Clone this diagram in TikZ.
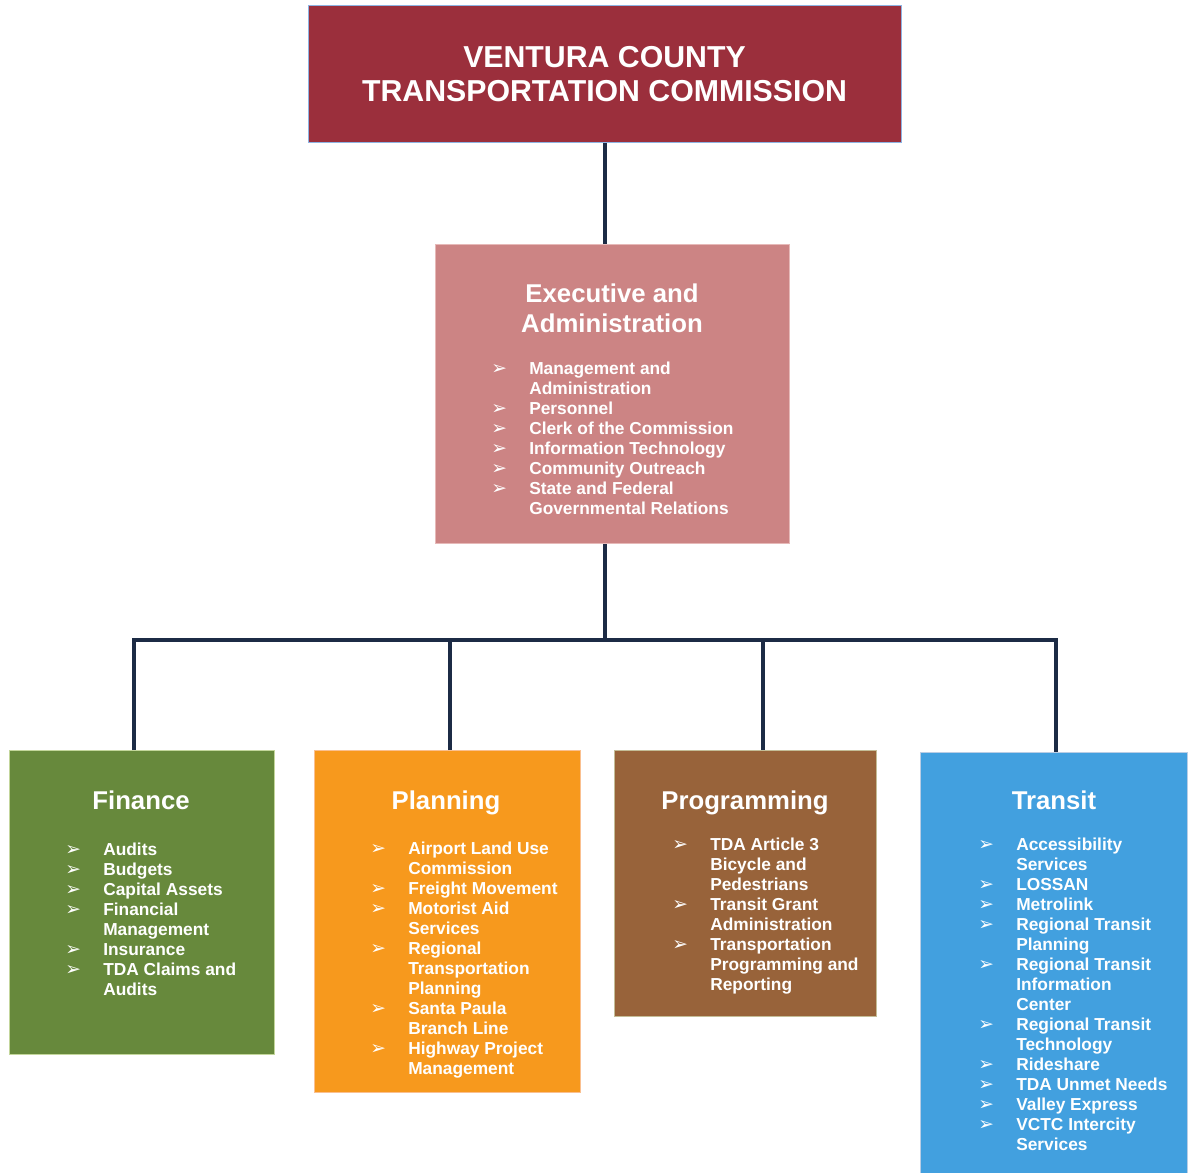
\documentclass[tikz,border=0pt]{standalone}
\usepackage{fontspec}
\setmainfont{Liberation Sans}
\newfontfamily\dejavu{DejaVu Sans}
\definecolor{topred}{HTML}{9B2F3C}
\definecolor{topborder}{HTML}{8EB4E3}
\definecolor{execpink}{HTML}{CC8484}
\definecolor{execborder}{HTML}{E6B9B8}
\definecolor{fingreen}{HTML}{67893C}
\definecolor{finborder}{HTML}{C3D69B}
\definecolor{plaorange}{HTML}{F7991D}
\definecolor{plaborder}{HTML}{FAC090}
\definecolor{probrown}{HTML}{98633A}
\definecolor{proborder}{HTML}{C4BD97}
\definecolor{trablue}{HTML}{42A0DF}
\definecolor{traborder}{HTML}{B9CDE5}
\definecolor{conncol}{HTML}{1C2B45}
\newcommand\bu{\makebox[28.5pt][l]{\dejavu\fontsize{14}{14}\selectfont ➢}}
\newcommand\ct{\hspace*{28.5pt}}
\tikzset{
  unitbox/.style={draw, line width=1pt, inner sep=0pt, anchor=north west},
  conn/.style={draw=conncol, line width=3pt},
  maintitle/.style={text=white, font=\bfseries\fontsize{22.7}{25.5}\selectfont, align=center},
  sectitle/.style={text=white, font=\bfseries\fontsize{19.3}{22.5}\selectfont, align=center},
  subtitle/.style={sectitle, anchor=base},
  itemlist/.style={text=white, font=\bfseries\fontsize{13}{15}\selectfont, align=left, anchor=north west, inner sep=0pt},
}
\begin{document}
\begin{tikzpicture}[x=0.75pt,y=-0.75pt]
\useasboundingbox (0,0) rectangle (1190,1173);
% boxes
\node[unitbox, fill=topred, draw=topborder, minimum width=444.75pt, minimum height=102.75pt] (top) at (308,5) {};
\node[unitbox, fill=execpink, draw=execborder, minimum width=265.5pt, minimum height=224.25pt] (exec) at (435,244) {};
\node[unitbox, fill=fingreen, draw=finborder, minimum width=198.75pt, minimum height=228pt] (fin) at (9,750) {};
\node[unitbox, fill=plaorange, draw=plaborder, minimum width=199.5pt, minimum height=256.5pt] (pla) at (314,750) {};
\node[unitbox, fill=probrown, draw=proborder, minimum width=196.5pt, minimum height=199.5pt] (pro) at (614,750) {};
\node[unitbox, fill=trablue, draw=traborder, minimum width=200.25pt, minimum height=318pt] (tra) at (920,752) {};
% connectors
\coordinate (hub) at (605,640);
\coordinate (bF) at (134,640);
\coordinate (bP) at (450,640);
\coordinate (bR) at (763,640);
\coordinate (bT) at (1056,640);
\draw[conn] (top.south -| hub) -- (exec.north -| hub);
\draw[conn] (exec.south -| hub) -- (hub);
\draw[conn, line join=miter] (fin.north -| bF) -- (bF) -- (bT) -- (tra.north -| bT);
\draw[conn] (pla.north -| bP) -- (bP);
\draw[conn] (pro.north -| bR) -- (bR);
% titles
\node[maintitle] (toptitle) at (604.5,74) {VENTURA COUNTY\\TRANSPORTATION COMMISSION};
\node[sectitle] (exectitle) at (612,308) {Executive and\\Administration};
\node[subtitle] (fintitle) at (141,809) {Finance};
\node[subtitle] (platitle) at (446,809) {Planning};
\node[subtitle] (protitle) at (745,809) {Programming};
\node[subtitle] (tratitle) at (1054,809) {Transit};
% lists
\node[itemlist] (execlist) at (491,362) {\bu Management and\\ \ct Administration\\ \bu Personnel\\ \bu Clerk of the Commission\\ \bu Information Technology\\ \bu Community Outreach\\ \bu State and Federal\\ \ct Governmental Relations};
\node[itemlist] (finlist) at (65,843) {\bu Audits\\ \bu Budgets\\ \bu Capital Assets\\ \bu Financial\\ \ct Management\\ \bu Insurance\\ \bu TDA Claims and\\ \ct Audits};
\node[itemlist] (plalist) at (370,842) {\bu Airport Land Use\\ \ct Commission\\ \bu Freight Movement\\ \bu Motorist Aid\\ \ct Services\\ \bu Regional\\ \ct Transportation\\ \ct Planning\\ \bu Santa Paula\\ \ct Branch Line\\ \bu Highway Project\\ \ct Management};
\node[itemlist] (prolist) at (672,838) {\bu TDA Article 3\\ \ct Bicycle and\\ \ct Pedestrians\\ \bu Transit Grant\\ \ct Administration\\ \bu Transportation\\ \ct Programming and\\ \ct Reporting};
\node[itemlist] (tralist) at (978,838) {\bu Accessibility\\ \ct Services\\ \bu LOSSAN\\ \bu Metrolink\\ \bu Regional Transit\\ \ct Planning\\ \bu Regional Transit\\ \ct Information\\ \ct Center\\ \bu Regional Transit\\ \ct Technology\\ \bu Rideshare\\ \bu TDA Unmet Needs\\ \bu Valley Express\\ \bu VCTC Intercity\\ \ct Services};
\end{tikzpicture}
\end{document}
